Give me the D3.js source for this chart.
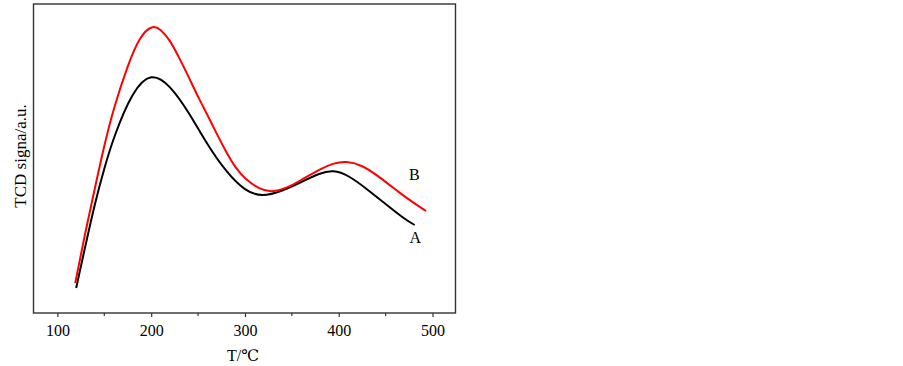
<!DOCTYPE html>
<html>
<head>
<meta charset="utf-8">
<script src="https://cdn.jsdelivr.net/npm/d3@7"></script>
<style>
  body { margin: 0; background: #fff; }
  text { font-family: "Liberation Serif", "DejaVu Serif", serif; }
</style>
</head>
<body>
<div id="chart"></div>
<script>
// Temperature (°C) and TCD signal (a.u.)
const tempA = [120, 130, 140, 150, 160, 180, 200, 220, 240, 260, 280, 300, 318, 340, 360, 380, 394, 410, 430, 450, 470, 481];
const signalA = [25, 68, 110, 145, 176, 222, 241, 228, 201, 168, 141, 122, 116, 122, 131, 140, 143, 138, 124, 109, 94, 88];

const tempB = [119, 130, 140, 150, 160, 175, 188, 201, 210, 220, 230, 240, 250, 260, 270, 280, 290, 300, 315, 328, 345, 360, 380, 395, 408, 425, 445, 465, 480, 493];
const signalB = [30, 82, 125, 168, 205, 248, 277, 288, 284, 273, 255, 236, 216, 198, 179, 161, 145, 134, 124, 120.5, 125, 133, 144, 150, 152, 148, 135, 120, 110, 102];

const xTicks = [100, 200, 300, 400, 500];
const xMinorTicks = [150, 250, 350, 450];
const seriesNames = ["A", "B"];

const W = 903, H = 366;
const svg = d3.select("#chart").append("svg")
  .attr("width", W)
  .attr("height", H);

const plotLeft = 33.5, plotRight = 455.5, plotTop = 4, plotBottom = 313;

const x = d3.scaleLinear().domain([74.5, 524.5]).range([plotLeft, plotRight]);
const y = d3.scaleLinear().domain([0, 309]).range([plotBottom, plotTop]);

// frame
svg.append("rect")
  .attr("x", plotLeft)
  .attr("y", plotTop)
  .attr("width", plotRight - plotLeft)
  .attr("height", plotBottom - plotTop)
  .attr("fill", "none")
  .attr("stroke", "#333")
  .attr("stroke-width", 1.4);

// x axis
const xAxis = svg.append("g")
  .attr("transform", `translate(0,${plotBottom})`)
  .call(d3.axisBottom(x).tickValues(xTicks).tickSize(4).tickPadding(8));
xAxis.select(".domain").remove();
xAxis.selectAll("line").attr("stroke", "#333").attr("stroke-width", 1.2);
xAxis.selectAll("text")
  .style("font-family", "'Liberation Serif', serif")
  .style("font-size", "16px")
  .attr("fill", "#000");

svg.append("g")
  .attr("transform", `translate(0,${plotBottom})`)
  .selectAll("line")
  .data(xMinorTicks)
  .enter()
  .append("line")
  .attr("x1", d => x(d))
  .attr("x2", d => x(d))
  .attr("y1", 0)
  .attr("y2", 3)
  .attr("stroke", "#333")
  .attr("stroke-width", 1.2);

const line = d3.line()
  .x(d => x(d[0]))
  .y(d => y(d[1]))
  .curve(d3.curveBasis);

svg.append("path")
  .datum(tempA.map((t, i) => [t, signalA[i]]))
  .attr("fill", "none")
  .attr("stroke", "#000")
  .attr("stroke-width", 2)
  .attr("d", line);

svg.append("path")
  .datum(tempB.map((t, i) => [t, signalB[i]]))
  .attr("fill", "none")
  .attr("stroke", "#ff0000")
  .attr("stroke-width", 2)
  .attr("d", line);

// series labels
svg.append("text")
  .attr("x", x(481.5))
  .attr("y", y(70))
  .attr("text-anchor", "middle")
  .style("font-size", "16px")
  .text(seriesNames[0]);

svg.append("text")
  .attr("x", x(480.5))
  .attr("y", y(133))
  .attr("text-anchor", "middle")
  .style("font-size", "16px")
  .text(seriesNames[1]);

// axis titles
svg.append("text")
  .attr("x", 243)
  .attr("y", 361)
  .attr("text-anchor", "middle")
  .style("font-size", "16px")
  .text("T/℃");

svg.append("text")
  .attr("transform", "rotate(-90)")
  .attr("x", -156)
  .attr("y", 26)
  .attr("text-anchor", "middle")
  .style("font-size", "17px")
  .text("TCD signa/a.u.");
</script>
</body>
</html>
